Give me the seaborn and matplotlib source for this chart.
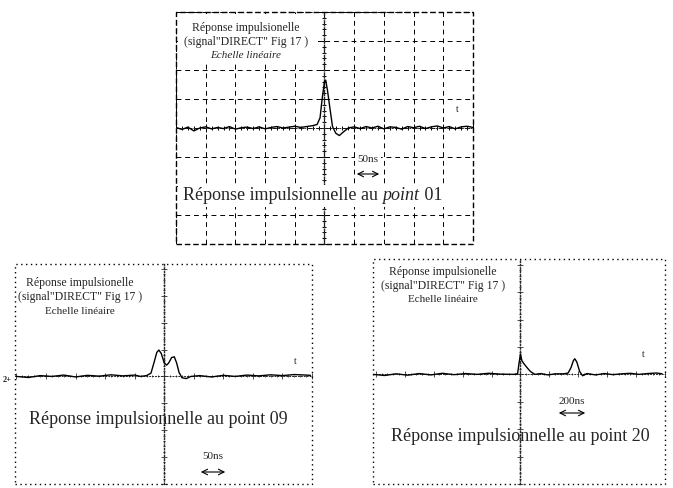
import numpy as np
import pandas as pd
import matplotlib
matplotlib.use("Agg")
import matplotlib.pyplot as plt
from matplotlib.patches import Rectangle
import seaborn as sns

W, H = 673, 489

# trace data, in screen divisions (time, amplitude)
top_t = [-5.0, -4.8, -4.6, -4.4, -4.2, -4.0, -3.8, -3.6, -3.4, -3.2, -3.0, -2.8,
         -2.6, -2.4, -2.2, -2.0, -1.8, -1.6, -1.4, -1.2, -1.0, -0.8, -0.6, -0.4,
         -0.25, -0.15, -0.08, 0.0, 0.04, 0.1, 0.18, 0.27, 0.38, 0.5, 0.62, 0.8,
         1.0, 1.2, 1.4, 1.6, 1.8, 2.0, 2.2, 2.4, 2.6, 2.8, 3.0, 3.2, 3.4, 3.6,
         3.8, 4.0, 4.2, 4.4, 4.6, 4.8, 5.0]
top_v = [0.02, -0.05, 0.03, -0.1, 0.0, 0.04, -0.03, 0.02, -0.02, 0.05, -0.04, 0.01,
         0.03, -0.02, 0.04, -0.03, 0.02, 0.05, 0.0, 0.03, 0.06, 0.02, 0.05, 0.08,
         0.12, 0.35, 1.0, 1.6, 1.65, 1.3, 0.7, 0.05, -0.18, -0.26, -0.15, 0.0,
         0.04, -0.02, 0.05, 0.0, 0.06, -0.03, 0.04, 0.02, -0.04, 0.05, 0.01, 0.06,
         -0.02, 0.04, 0.07, 0.0, 0.05, -0.03, 0.04, 0.06, 0.02]

p09_t = [-5.0, -4.6, -4.2, -3.8, -3.4, -3.0, -2.6, -2.2, -1.8, -1.4, -1.0, -0.8,
         -0.6, -0.45, -0.35, -0.25, -0.18, -0.1, 0.0, 0.08, 0.15, 0.25, 0.34, 0.42,
         0.5, 0.6, 0.75, 0.9, 1.2, 1.6, 2.0, 2.4, 2.8, 3.2, 3.6, 4.0, 4.4, 4.8, 4.95]
p09_v = [0.0, -0.04, 0.03, 0.0, 0.05, -0.02, 0.04, 0.01, 0.06, 0.02, 0.05, 0.0,
         0.03, 0.12, 0.5, 0.9, 0.98, 0.85, 0.5, 0.42, 0.5, 0.7, 0.73, 0.5,
         0.15, -0.05, -0.08, 0.0, 0.03, -0.02, 0.04, 0.0, 0.05, 0.02, 0.06, 0.03,
         0.07, 0.05, 0.04]

p20_t = [-5.1, -4.7, -4.3, -3.9, -3.5, -3.1, -2.7, -2.3, -1.9, -1.5, -1.1, -0.7,
         -0.25, -0.1, -0.05, 0.0, 0.05, 0.1, 0.15, 0.25, 0.35, 0.5, 0.7, 0.95,
         1.2, 1.5, 1.65, 1.75, 1.83, 1.88, 1.95, 2.05, 2.15, 2.3, 2.6, 2.9, 3.2,
         3.5, 3.8, 4.1, 4.4, 4.7, 4.9]
p20_v = [0.0, -0.04, 0.02, -0.03, 0.03, -0.02, 0.04, -0.01, 0.03, 0.0, 0.04, 0.01,
         0.0, 0.02, 0.4, 0.75, 0.5, 0.42, 0.35, 0.22, 0.1, 0.0, 0.03, -0.02,
         0.02, 0.02, 0.05, 0.25, 0.5, 0.57, 0.45, 0.1, -0.05, 0.03, -0.02, 0.03,
         -0.01, 0.02, 0.04, 0.0, 0.03, 0.05, 0.02]

header = ["Réponse impulsionelle", "(signal\"DIRECT\" Fig 17 )", "Echelle linéaire"]
captions = ["Réponse impulsionnelle au ", "Réponse impulsionnelle au point 09",
            "Réponse impulsionnelle au point 20"]
scales = ["50ns", "50ns", "200ns"]

sns.set_style("white")
plt.rcParams["font.family"] = ["Liberation Serif", "DejaVu Serif"]

fig = plt.figure(figsize=(W / 100, H / 100), dpi=100)
fig.patch.set_facecolor("white")

WHITE = dict(facecolor="white", edgecolor="none", pad=1.5)


def fx(x):
    return x / W


def fy(y):
    return 1 - y / H


def scope(box, xlim, ylim, t, v, grid=False, frame_ls=(0, (1, 2.5)), tick=1.0):
    x0, y0, x1, y1 = box
    ax = fig.add_axes([fx(x0), fy(y1), (x1 - x0) / W, (y1 - y0) / H])
    df = pd.DataFrame({"t": t, "v": v})
    sns.lineplot(data=df, x="t", y="v", ax=ax, color="black", lw=1.0,
                 estimator=None, sort=False, zorder=5)
    ax.set_xlim(*xlim)
    ax.set_ylim(*ylim)
    ax.set_xlabel("")
    ax.set_ylabel("")
    ax.spines["top"].set_visible(False)
    ax.spines["right"].set_visible(False)
    ax.spines["left"].set_position(("data", 0))
    ax.spines["bottom"].set_position(("data", 0))
    ax.spines["left"].set_linestyle((0, (1, 1.5)))
    ax.spines["bottom"].set_linestyle((0, (1, 2)))
    ax.spines["left"].set_linewidth(1.0)
    ax.spines["bottom"].set_linewidth(0.7)
    ax.set_xticks(np.arange(-5, 6, 1))
    ax.set_yticks(np.arange(-4, 5, 1))
    ax.set_xticks(np.arange(-5, 5.01, 0.2), minor=True)
    ax.set_yticks(np.arange(-4, 4.01, 0.2), minor=True)
    ax.tick_params(which="both", direction="inout", labelbottom=False,
                   labelleft=False, color="black", width=0.7 * tick,
                   bottom=True, left=True)
    ax.tick_params(which="major", length=6 * tick)
    ax.tick_params(which="minor", length=3 * tick)
    if grid:
        ax.grid(True, which="major", color="black", lw=0.7, ls=(0, (5, 4)))
    else:
        ax.grid(False)
    ax.add_patch(Rectangle((0, 0), 1, 1, transform=ax.transAxes, fill=False,
                           ec="black", lw=1.0, ls=frame_ls, clip_on=False))
    return ax


scope((176, 13, 473, 245), (-5, 5), (-4, 4), top_t, top_v, grid=True,
      frame_ls=(0, (4, 2)))
scope((15, 265, 312, 485), (-5.05, 4.95), (-3.82, 4.18), p09_t, p09_v, tick=0.7)
scope((373, 260, 665, 485), (-5.1, 4.9), (-3.82, 4.21), p20_t, p20_v, tick=0.7)


def head(cx, cy, italic_last=True, box=False):
    kw = dict(bbox=WHITE) if box else {}
    fig.text(fx(cx), fy(cy), header[0], ha="center", va="center", fontsize=8.5,
             zorder=10, **kw)
    fig.text(fx(cx), fy(cy + 14), header[1], ha="center", va="center",
             fontsize=8.5, zorder=10, **kw)
    fig.text(fx(cx), fy(cy + 28), header[2], ha="center", va="center", fontsize=8,
             style="italic" if italic_last else "normal", zorder=10, **kw)


def scale_bar(label, cx, ty, ay, half, box=False):
    kw = dict(bbox=WHITE) if box else {}
    fig.text(fx(cx), fy(ty), label, ha="center", va="center", fontsize=8,
             zorder=10, **kw)
    fig.add_artist(plt.Annotation("", xy=(fx(cx + half), fy(ay)),
                                  xytext=(fx(cx - half), fy(ay)),
                                  xycoords="figure fraction",
                                  arrowprops=dict(arrowstyle="<->", lw=0.8,
                                                  color="black")))


# top panel: white area behind the header block and the caption
fig.add_artist(Rectangle((fx(178), fy(64)), (318 - 178) / W, (64 - 15) / H,
                         transform=fig.transFigure, fc="white", ec="none",
                         zorder=8))
fig.add_artist(Rectangle((fx(178), fy(208)), (471 - 178) / W, (208 - 186) / H,
                         transform=fig.transFigure, fc="white", ec="none",
                         zorder=8))
head(246, 28)
t1 = fig.text(fx(183), fy(196), captions[0], ha="left", va="center", fontsize=13,
              zorder=10)
fig.canvas.draw()
bb = t1.get_window_extent()
t2 = fig.text(bb.x1 / W, fy(196), "point", ha="left", va="center", fontsize=13,
              style="italic", zorder=10)
bb2 = t2.get_window_extent()
fig.text(bb2.x1 / W, fy(196), " 01", ha="left", va="center", fontsize=13,
         zorder=10)
scale_bar(scales[0], 368, 160, 175, 14, box=True)
fig.text(fx(457), fy(110), "t", ha="center", va="center", fontsize=7)

# point 09
head(80, 283, italic_last=False)
fig.text(fx(158), fy(420), captions[1], ha="center", va="center", fontsize=13)
scale_bar(scales[1], 213, 457, 473, 15)
fig.text(fx(295), fy(362), "t", ha="center", va="center", fontsize=7)
fig.text(fx(3), fy(380), "2+", ha="left", va="center", fontsize=6, weight="bold")

# point 20
head(443, 272, italic_last=False)
fig.text(fx(520), fy(437), captions[2], ha="center", va="center", fontsize=13)
scale_bar(scales[2], 572, 402, 414, 16)
fig.text(fx(643), fy(355), "t", ha="center", va="center", fontsize=7)

fig.savefig("out.png", dpi=100, facecolor="white")
